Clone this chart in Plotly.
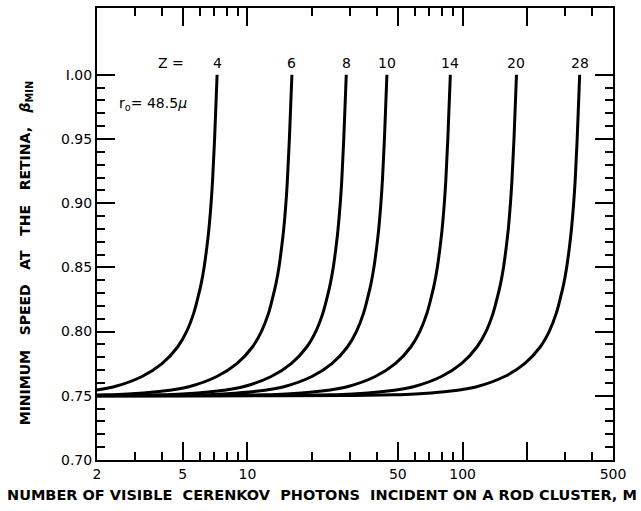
import numpy as np
import plotly.graph_objects as go

# Curves: M (photons) vs beta_min for each charge Z
z_labels = ["4", "6", "8", "10", "14", "20", "28"]
beta = [0.7500, 0.7500, 0.7503, 0.7508, 0.7515, 0.7545, 0.757, 0.765, 0.775, 0.788, 0.800,
        0.814, 0.827, 0.837, 0.850, 0.866, 0.879, 0.900, 0.918, 0.950, 1.000]
m_z4 = [0.1, 0.291, 0.649, 0.997, 1.304, 2.000, 2.400, 3.238, 4.011, 4.736, 5.214,
        5.621, 5.898, 6.091, 6.290, 6.482, 6.615, 6.780, 6.890, 7.039, 7.23]
m_z6 = [0.1, 0.649, 1.446, 2.220, 2.903, 4.453, 5.344, 7.210, 8.932, 10.55, 11.61,
        12.52, 13.13, 13.56, 14.01, 14.43, 14.73, 15.10, 15.34, 15.67, 16.1]
m_z8 = [0.1, 1.161, 2.586, 3.972, 5.193, 7.966, 9.559, 12.90, 15.98, 18.87, 20.77,
        22.39, 23.50, 24.26, 25.06, 25.82, 26.35, 27.01, 27.45, 28.04, 28.8]
m_z10 = [0.1, 1.793, 3.996, 6.137, 8.023, 12.31, 14.77, 19.93, 24.69, 29.15, 32.09,
         34.59, 36.30, 37.49, 38.72, 39.89, 40.71, 41.73, 42.41, 43.33, 44.5]
m_z14 = [0.1, 3.534, 7.875, 12.09, 15.81, 24.26, 29.11, 39.27, 48.66, 57.45, 63.24,
         68.18, 71.55, 73.89, 76.30, 78.62, 80.24, 82.25, 83.58, 85.38, 87.7]
m_z20 = [0.1, 7.173, 15.98, 24.55, 32.09, 49.23, 59.08, 79.71, 98.75, 116.6, 128.4,
         138.4, 145.2, 150.0, 154.9, 159.6, 162.9, 166.9, 169.6, 173.3, 178.0]
m_z28 = [0.1, 14.11, 31.43, 48.27, 63.11, 96.81, 116.2, 156.7, 194.2, 229.3, 252.4,
         272.1, 285.5, 294.9, 304.5, 313.8, 320.2, 328.2, 333.6, 340.8, 350.0]
curves = [m_z4, m_z6, m_z8, m_z10, m_z14, m_z20, m_z28]

x_major = [2, 5, 10, 50, 100, 200, 500]
x_major_text = ["2", "5", "10", "50", "100", " ", "500"]
x_minor = [3, 4, 6, 7, 8, 9, 20, 30, 40, 60, 70, 80, 90, 300, 400]
y_major = [0.70, 0.75, 0.80, 0.85, 0.90, 0.95, 1.00]
y_major_text = ["0.70", "0.75", "0.80", "0.85", "0.90", "0.95", "I.00"]
y_minor = [round(0.70 + 0.01 * i, 2) for i in range(31)]

fig = go.Figure()
for m, zl in zip(curves, z_labels):
    fig.add_trace(go.Scatter(x=m, y=beta, mode="lines",
                             line=dict(color="black", width=3, shape="spline", smoothing=1.0),
                             showlegend=False, hoverinfo="skip"))
    fig.add_annotation(x=np.log10(m[-1]), y=beta[-1], xref="x", yref="y", text=zl,
                       showarrow=False, yshift=12, yanchor="middle",
                       font=dict(family="DejaVu Sans", size=14, color="black"))

fig.add_annotation(x=np.log10(4.4), y=beta[-1], xref="x", yref="y", text="Z =",
                   showarrow=False, yshift=12, yanchor="middle",
                   font=dict(family="DejaVu Sans", size=14, color="black"))
fig.add_annotation(x=0.039, y=0.9776, xref="paper", yref="y", text="r<sub>o</sub>= 48.5<i>μ</i>",
                   showarrow=False, xanchor="left", yanchor="middle",
                   font=dict(family="DejaVu Sans", size=14, color="black"))

# axis titles
sp = "\u00a0\u00a0\u00a0"
fig.add_annotation(x=-0.137, y=0.458, xref="paper", yref="paper",
                   text=f"MINIMUM{sp}SPEED{sp}AT{sp}THE{sp}RETINA,{sp}<i>β</i><sub>MIN</sub>",
                   textangle=-90, showarrow=False, xanchor="center", yanchor="middle",
                   font=dict(family="DejaVu Sans", size=14, color="black", weight="bold"))
fig.add_annotation(x=0.436, y=-0.055, xref="paper", yref="paper",
                   text="NUMBER OF VISIBLE\u00a0\u00a0CERENKOV\u00a0\u00a0PHOTONS\u00a0\u00a0INCIDENT ON A ROD CLUSTER,\u00a0M",
                   showarrow=False, xanchor="center", yanchor="top",
                   font=dict(family="DejaVu Sans", size=14.5, color="black", weight="bold"))

axis_common = dict(showline=True, linecolor="black", linewidth=2, mirror="ticks",
                   ticks="inside", tickcolor="black", tickwidth=1.5, ticklen=18,
                   showgrid=False, zeroline=False,
                   tickfont=dict(family="DejaVu Sans", size=14, color="black"))

fig.update_xaxes(type="log", range=[np.log10(2), np.log10(500)],
                 tickmode="array", tickvals=x_major, ticktext=x_major_text,
                 minor=dict(tickmode="array", tickvals=x_minor, ticks="inside", ticklen=8,
                            tickcolor="black", tickwidth=1.5),
                 **axis_common)
fig.update_yaxes(range=[0.70, 1.052],
                 tickmode="array", tickvals=y_major, ticktext=y_major_text,
                 minor=dict(tickmode="array", tickvals=y_minor, ticks="inside", ticklen=8,
                            tickcolor="black", tickwidth=1.5),
                 **axis_common)

fig.update_layout(width=641, height=511,
                  margin=dict(l=97, r=28, t=8, b=51, autoexpand=False),
                  paper_bgcolor="white", plot_bgcolor="white")

fig.write_html("out.html")
